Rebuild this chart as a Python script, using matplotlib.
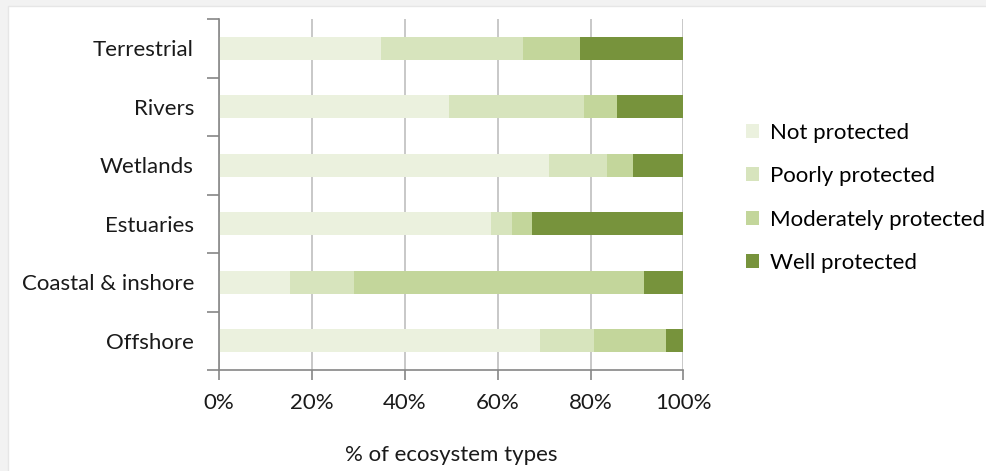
import matplotlib.pyplot as plt
from matplotlib.patches import Rectangle

# Data (percent of ecosystem types)
categories = ['Terrestrial', 'Rivers', 'Wetlands', 'Estuaries', 'Coastal & inshore', 'Offshore']
not_protected = [34.8, 49.6, 71.1, 58.6, 15.3, 69.1]
poorly_protected = [30.7, 28.9, 12.5, 4.4, 13.8, 11.7]
moderately_protected = [12.3, 7.2, 5.5, 4.3, 62.3, 15.4]
well_protected = [22.2, 14.3, 10.9, 32.7, 8.6, 3.8]

series = [
    ('Not protected', not_protected, '#EBF1DE'),
    ('Poorly protected', poorly_protected, '#D7E4BD'),
    ('Moderately protected', moderately_protected, '#C3D69B'),
    ('Well protected', well_protected, '#77933C'),
]

plt.rcParams['font.family'] = ['Lato', 'DejaVu Sans']
fs = 16

W, H = 987, 471
fig = plt.figure(figsize=(W / 100, H / 100), dpi=100)

# light frame of the chart area
fig.patches.append(Rectangle((0, 0), 1, 1, transform=fig.transFigure,
                             facecolor='#F2F2F2', edgecolor='none', zorder=-3))
fig.patches.append(Rectangle((8 / W, -0.1), 1.2, 1.1 - 6 / H, transform=fig.transFigure,
                             facecolor='white', edgecolor='#E6E6E6', lw=1, zorder=-2))

ax = fig.add_axes([219 / W, 1 - 370 / H, (683.5 - 219) / W, (370 - 19) / H])

y = list(range(len(categories)))
left = [0] * len(categories)
for name, vals, color in series:
    ax.barh(y, vals, left=left, height=0.4, color=color, label=name, zorder=2)
    left = [a + b for a, b in zip(left, vals)]

ax.set_ylim(len(categories) - 0.5, -0.5)
ax.set_xlim(0, 100)
ax.set_yticks(y)
ax.set_yticklabels(categories, fontsize=fs, color='#1a1a1a')
ax.tick_params(axis='y', length=0, pad=18)
ax.set_yticks([i - 0.5 for i in range(len(categories) + 1)], minor=True)
ax.tick_params(axis='y', which='minor', length=9, width=1.2, color='#868686')

ax.set_xticks([0, 20, 40, 60, 80, 100])
ax.set_xticklabels(['0%', '20%', '40%', '60%', '80%', '100%'], fontsize=fs, color='#1a1a1a')
ax.tick_params(axis='x', length=7, width=1.2, color='#868686', pad=9.5)

ax.grid(axis='x', color='#BFBFBF', lw=1.2, zorder=0)
for s in ['top', 'right']:
    ax.spines[s].set_visible(False)
for s in ['left', 'bottom']:
    ax.spines[s].set_color('#868686')
    ax.spines[s].set_linewidth(1.2)

ax.set_xlabel('% of ecosystem types', fontsize=fs, color='#1a1a1a', labelpad=23)

ax.legend(loc='upper left', bbox_to_anchor=(737 / W, 1 - 114 / H),
          bbox_transform=fig.transFigure, frameon=False, fontsize=fs,
          handlelength=0.6, handleheight=0.6, handletextpad=0.5,
          labelspacing=1.05, borderaxespad=0)

fig.savefig('out.png', dpi=100)
